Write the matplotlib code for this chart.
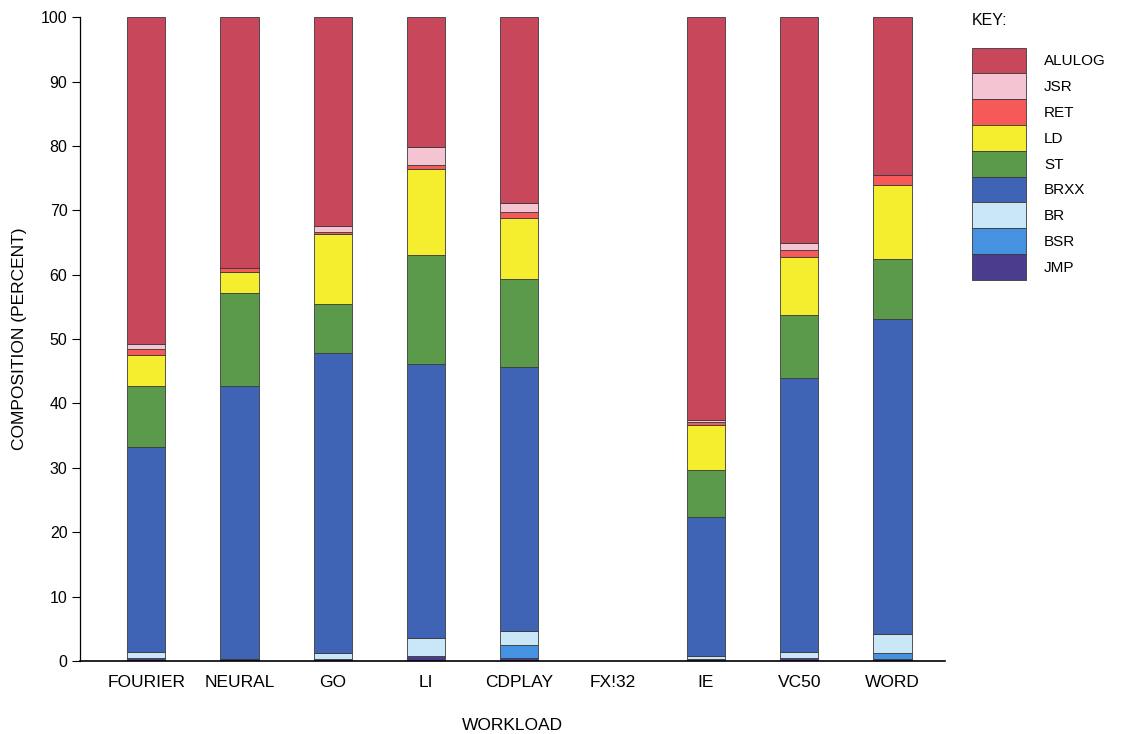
import matplotlib.pyplot as plt
import numpy as np

plt.rcParams['font.family'] = ['Liberation Sans', 'DejaVu Sans']

workloads = ["FOURIER", "NEURAL", "GO", "LI", "CDPLAY", "FX!32", "IE", "VC50", "WORD"]

# percent composition per instruction class (bottom to top of each bar)
jmp    = [0.5, 0.3, 0.3, 0.7, 0.4, 0, 0.3, 0.4, 0.3]
bsr    = [0.0, 0.0, 0.0, 0.0, 2.1, 0, 0.0, 0.0, 0.9]
br     = [0.9, 0.0, 0.9, 2.9, 2.2, 0, 0.5, 1.0, 3.0]
brxx   = [31.9, 42.4, 46.6, 42.5, 41.0, 0, 21.6, 42.5, 48.9]
st     = [9.4, 14.4, 7.6, 16.9, 13.7, 0, 7.2, 9.8, 9.3]
ld     = [4.9, 3.4, 10.9, 13.4, 9.4, 0, 7.0, 9.1, 11.5]
ret    = [0.8, 0.5, 0.4, 0.6, 1.0, 0, 0.5, 1.1, 1.6]
jsr    = [0.8, 0.0, 0.8, 2.8, 1.4, 0, 0.3, 1.0, 0.0]
alulog = [50.8, 39.0, 32.5, 20.2, 28.8, 0, 62.6, 35.1, 24.5]

classes = ["JMP", "BSR", "BR", "BRXX", "ST", "LD", "RET", "JSR", "ALULOG"]
series = [jmp, bsr, br, brxx, st, ld, ret, jsr, alulog]
colors = ["#4b3c8e", "#4592e0", "#c9e7f6", "#3f64b6", "#5a9a4a",
          "#f4ee2e", "#f65a58", "#f4c4d2", "#c9475a"]

fig = plt.figure(figsize=(11.26, 7.34), dpi=100)
ax = fig.add_axes([0.071, 0.0995, 0.768, 0.877])

x = np.arange(len(workloads))
bottom = np.zeros(len(workloads))
bars = []
for name, vals, c in zip(classes, series, colors):
    vals = np.array(vals, dtype=float)
    b = ax.bar(x, vals, width=0.41, bottom=bottom, color=c,
               edgecolor="#3a3a3a", linewidth=0.6, label=name)
    bars.append(b)
    bottom += vals

ax.set_xlim(-0.71, 8.56)
ax.set_ylim(0, 100)
ax.set_yticks(range(0, 101, 10))
ax.set_xticks(x)
ax.set_xticklabels(workloads)
ax.tick_params(axis='x', length=0, pad=10, labelsize=12.5)
ax.tick_params(axis='y', length=6, width=0.8, pad=3, labelsize=11.5)
for s in ["top", "right"]:
    ax.spines[s].set_visible(False)
ax.spines["left"].set_linewidth(0.9)
ax.spines["bottom"].set_linewidth(1.2)

ax.set_xlabel("WORKLOAD", fontsize=12.5, labelpad=20)
ax.set_ylabel("COMPOSITION (PERCENT)", fontsize=12.5, labelpad=10)

fig.text(0.863, 0.972, "KEY:", fontsize=11.5, va="center", ha="left")
leg = ax.legend(bars[::-1], classes[::-1], loc="upper left",
                bbox_to_anchor=(0.8635, 0.935), bbox_transform=fig.transFigure,
                frameon=False, handlelength=3.5, handleheight=2.22,
                labelspacing=0, handletextpad=1.2, fontsize=11,
                borderaxespad=0, borderpad=0)

fig.savefig("out.png", dpi=100)
